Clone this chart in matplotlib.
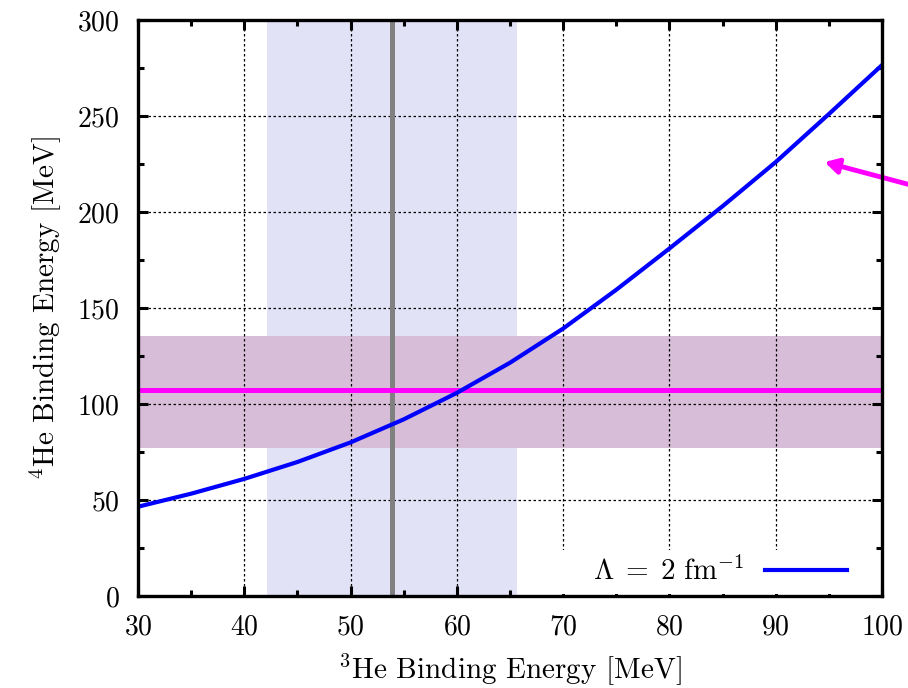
import matplotlib
matplotlib.use('Agg')
import matplotlib.pyplot as plt
from matplotlib.ticker import MultipleLocator
from matplotlib.patches import Rectangle

plt.rcParams['font.family'] = ['cmr10', 'DejaVu Serif']
plt.rcParams['mathtext.fontset'] = 'cm'
plt.rcParams['axes.formatter.use_mathtext'] = True

# He-3 vs He-4 binding energies, Lambda = 2 fm^-1
he3_energy = [30, 35, 40, 45, 50, 55, 60, 65, 70, 75, 80, 85, 90, 95, 100]
he4_energy = [46.5, 53.3, 61.0, 69.8, 80.0, 92.0, 105.8, 121.5, 139.3,
              159.5, 181.0, 203.0, 226.0, 251.0, 276.5]

# experimental He-3 band and central value
he3_band = (42.1, 65.7)
he3_center = 53.9
# experimental He-4 band and central value
he4_band = (77.0, 135.5)
he4_center = 107.3

legend_label = r'$\Lambda\;=\;2\ \mathrm{fm}^{-1}$'

fig = plt.figure(figsize=(9.08, 6.88), dpi=100)
ax = fig.add_axes([0.152, 0.1337, 0.8194, 0.8373])

ax.axvspan(he3_band[0], he3_band[1], color='#e2e2f6', lw=0, zorder=0)
ax.axhspan(he4_band[0], he4_band[1], color='#d8bdd8', lw=0, zorder=0.5)

ax.grid(True, which='major', color='black', lw=0.9, ls=(0, (2, 2)), zorder=1)
ax.set_axisbelow(True)

# white key box hides the grid behind the legend
ax.add_patch(Rectangle((0.565, 0.004), 0.43, 0.076, transform=ax.transAxes,
                       facecolor='white', edgecolor='none', zorder=1.5))

ax.axvline(he3_center, color='#808080', lw=3.6, zorder=2)
ax.axhline(he4_center, color='#ff00ff', lw=3.6, zorder=3)
ax.plot(he3_energy, he4_energy, color='#0000ff', lw=3.0, zorder=4,
        solid_joinstyle='round', label=legend_label)

ax.set_xlim(30, 100)
ax.set_ylim(0, 300)
ax.xaxis.set_major_locator(MultipleLocator(10))
ax.xaxis.set_minor_locator(MultipleLocator(5))
ax.yaxis.set_major_locator(MultipleLocator(50))
ax.yaxis.set_minor_locator(MultipleLocator(25))
ax.tick_params(which='both', direction='in', top=True, right=True, width=2.2,
               labelsize=20, colors='black')
ax.tick_params(which='major', length=7, pad=13)
ax.tick_params(which='minor', length=4)
for sp in ax.spines.values():
    sp.set_linewidth(2.4)
    sp.set_zorder(10)

ax.set_xlabel(r'$^{3}$He Binding Energy [MeV]', fontsize=21, labelpad=8)
ax.set_ylabel(r'$^{4}$He Binding Energy [MeV]', fontsize=21, labelpad=10)

leg = ax.legend(loc='lower right', bbox_to_anchor=(0.966, 0.0), markerfirst=False,
                fontsize=21, frameon=False, handlelength=2.8, handletextpad=0.7,
                borderaxespad=0.0, borderpad=0.35)
leg.set_zorder(5)

ax.annotate('', xy=(94.6, 226), xycoords='data',
            xytext=(1.04, 0.713), textcoords='axes fraction',
            arrowprops=dict(arrowstyle='-|>,head_length=0.8,head_width=0.45',
                            color='#ff00ff', lw=3.5, shrinkA=0, shrinkB=0),
            annotation_clip=False, zorder=6)

fig.savefig('out.png', dpi=100)
